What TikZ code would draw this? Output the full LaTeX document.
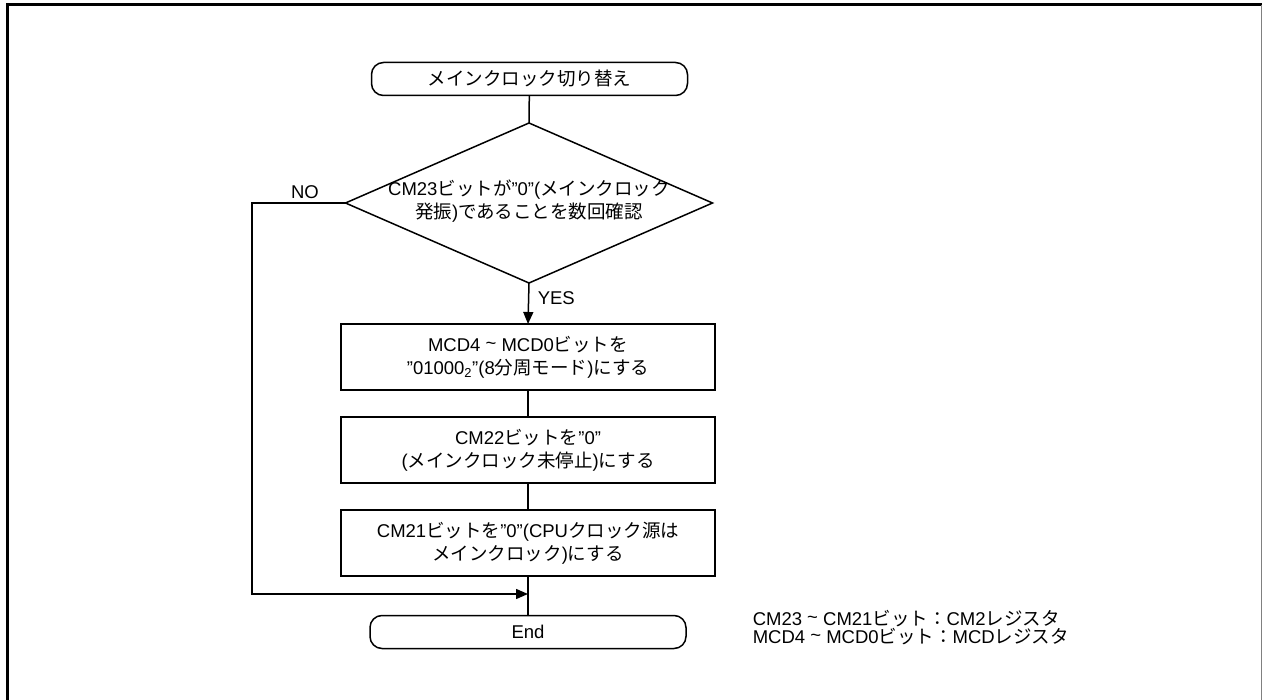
\documentclass[tikz,border=0pt]{standalone}
\usepackage{fontspec}
\setmainfont{Liberation Sans}
\newfontfamily\jp{Noto Sans CJK JP}
\usetikzlibrary{shapes.geometric,arrows.meta}
\begin{document}
\begin{tikzpicture}[x=1pt,y=-1pt,
  font=\fontsize{18.5}{23}\selectfont,
  line width=1.5pt,
  term/.style={draw,rectangle,rounded corners=12pt,minimum width=316pt,minimum height=33pt,inner sep=0pt,outer sep=0pt},
  proc/.style={draw,rectangle,minimum width=374pt,minimum height=66pt,inner sep=0pt,outer sep=0pt,align=center},
  dec/.style={draw,diamond,minimum width=367pt,minimum height=160pt,inner sep=0pt,outer sep=0pt},
  arr/.style={-{Triangle[length=12pt,width=10pt]}},
  lbl/.style={inner sep=0pt}]
\useasboundingbox (0,0) rectangle (1262,700);
% frame
\draw[line width=3pt] (7,700) -- (7,5) -- (1262,5);
\draw[line width=1pt,gray] (1261,5) -- (1261,700);
% nodes
\node[term] (start) at (529.5,79) {{\jp メインクロック切り替え}};
\node[dec] (d) at (529,203) {};
\node[lbl,align=center] (dt) at (529,201) {CM23{\jp ビットが}"0"({\jp メインクロック}\\{\jp 発振}){\jp であることを数回確認}};
\node[proc] (b1) at (528,357) {MCD4 \raisebox{0.2ex}{\textasciitilde} MCD0{\jp ビットを}\\"01000\textsubscript{2}"(8{\jp 分周モード}){\jp にする}};
\node[proc] (b2) at (528,450) {CM22{\jp ビットを}"0"\\({\jp メインクロック未停止}){\jp にする}};
\node[proc] (b3) at (528,543) {CM21{\jp ビットを}"0"(CPU{\jp クロック源は}\\{\jp メインクロック}){\jp にする}};
\node[term] (end) at (528,632) {End};
\coordinate (m) at (528,594);
\coordinate (dl) at (252,203);
% labels
\node[lbl] (no) at (305,192) {NO};
\node[lbl,anchor=west] (yes) at (537,298) {YES};
\node[lbl,anchor=west,align=left,font=\fontsize{18.5}{18}\selectfont] (note) at (752,628) {CM23 \raisebox{0.2ex}{\textasciitilde} CM21{\jp ビット：}CM2{\jp レジスタ}\\MCD4 \raisebox{0.2ex}{\textasciitilde} MCD0{\jp ビット：}MCD{\jp レジスタ}};
% connectors
\draw (start) -- (d.north);
\draw[arr] (d.south) -- (b1.north);
\draw (b1) -- (b2);
\draw (b2) -- (b3);
\draw (b3) -- (end);
\draw[arr] (d.west) -- (dl) |- (m);
\end{tikzpicture}
\end{document}
